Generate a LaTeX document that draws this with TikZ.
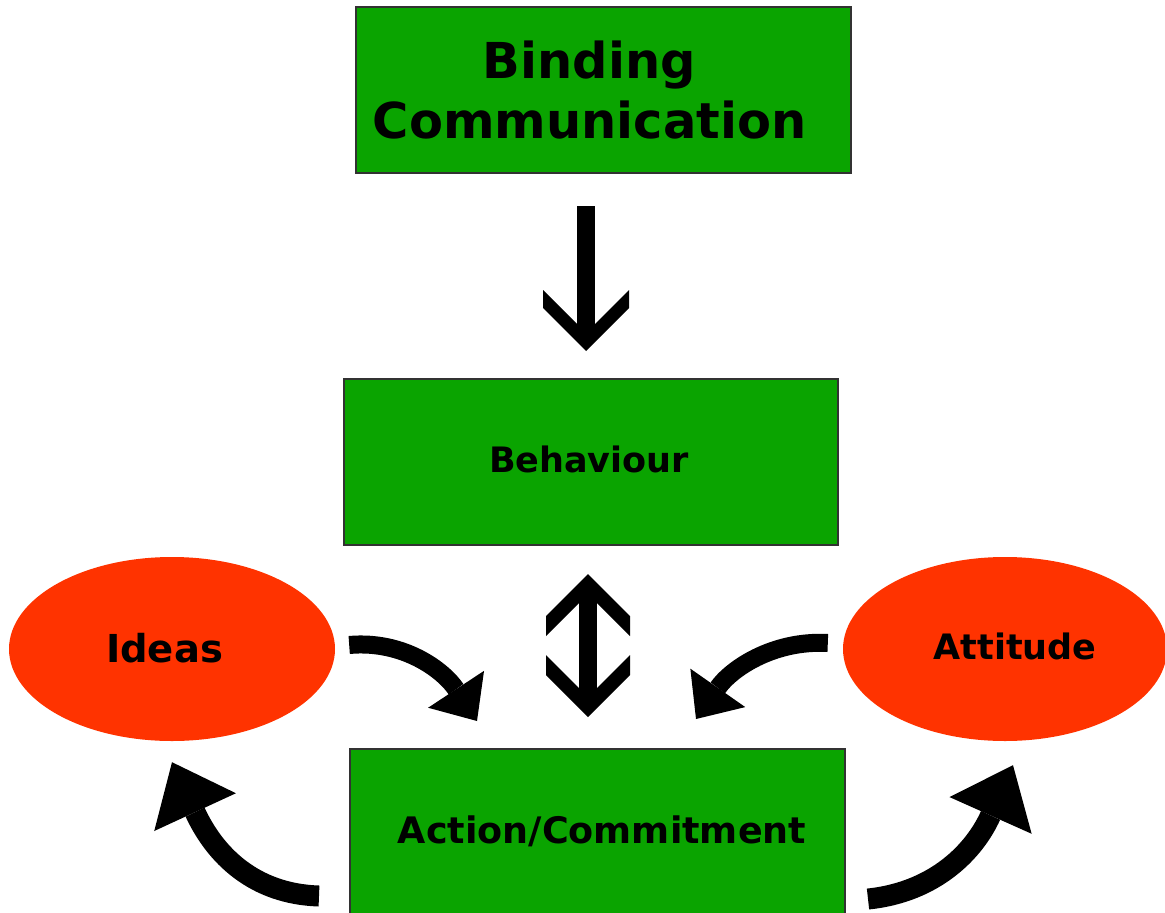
\documentclass[tikz,border=0pt]{standalone}
\usepackage{fontspec}
\setmainfont{DejaVu Sans}
\usetikzlibrary{shapes.geometric,arrows.meta,calc}
\definecolor{boxgreen}{RGB}{10,164,0}
\definecolor{ovalred}{RGB}{255,51,0}
\definecolor{edgegray}{RGB}{50,50,50}
\begin{document}
\begin{tikzpicture}[x=1pt,y=-1pt,
  greenbox/.style={draw=edgegray, line width=2pt, fill=boxgreen, inner sep=0pt},
  oval/.style={ellipse, fill=ovalred, inner sep=0pt},
  labelfont/.style={font=\bfseries\fontsize{35}{42}\selectfont},
  titlefont/.style={font=\bfseries\fontsize{49.5}{60}\selectfont, align=center},
  shaft/.style={line width=18pt},
  curved/.style={line width=18pt, -{Triangle[length=38pt,width=67pt,line width=0pt]}},
  curvedbig/.style={line width=21pt, -{Triangle[length=55pt,width=90pt,line width=0pt]}}
]
\useasboundingbox (0,0) rectangle (1165,913);

% boxes
\node[greenbox, minimum width=495pt, minimum height=166pt,
      label={[titlefont, xshift=-14pt]center:Binding\\Communication}] (bc) at (603.5,90) {};
\node[greenbox, minimum width=494pt, minimum height=166pt,
      label={[labelfont, xshift=-2pt, yshift=3pt]center:Behaviour}] (beh) at (591,462) {};
\node[greenbox, minimum width=495pt, minimum height=180pt,
      label={[labelfont, font=\bfseries\fontsize{36.5}{42}\selectfont, xshift=4.5pt, yshift=8pt]center:Action/Commitment}] (act) at (597.5,839) {};

% ovals
\node[oval, minimum width=326pt, minimum height=184pt,
      label={[labelfont, font=\bfseries\fontsize{38.5}{44}\selectfont, xshift=-7.5pt, yshift=1pt]center:Ideas}] (ideas) at (172,649) {};
\node[oval, minimum width=324pt, minimum height=184pt,
      label={[labelfont, xshift=10pt, yshift=3pt]center:Attitude}] (att) at (1005,649) {};

% straight down arrow
\coordinate (d1) at ($(bc.south)+(-17.5,32)$);
\coordinate (d2) at ($(beh.north)+(-5,-27)$);
\draw[shaft] (d1) -- ($(d2)+(0,-14)$);
\fill[shift={(d2)}] (0,0) -- (-43,-43) -- (-43,-61) -- (0,-18) -- (43,-61) -- (43,-43) -- cycle;

% double arrow
\coordinate (u1) at ($(beh.south)+(-3,28)$);
\coordinate (u2) at ($(act.north)+(-9.5,-31)$);
\draw[shaft] ($(u1)+(0,14)$) -- ($(u2)+(0,-14)$);
\fill[shift={(u1)}] (0,0) -- (-42,42) -- (-42,62) -- (0,20) -- (42,62) -- (42,42) -- cycle;
\fill[shift={(u2)}] (0,0) -- (-42,-42) -- (-42,-62) -- (0,-20) -- (42,-62) -- (42,-42) -- cycle;

% curved arrows into action
\draw[curved] ($(ideas.east)+(14,-4)$) .. controls +(55,-5) and +(-33,-50) .. ($(act.north west)+(128,-27)$);
\draw[curved] ($(att.west)+(-15,-6)$) .. controls +(-55,-3) and +(35,-50) .. ($(act.north east)+(-150,-29)$);

% curved arrows out of action
\draw[curvedbig] ($(act.north west)+(-30,148)$) .. controls +(-65,-2) and +(43,93) .. ($(ideas.south)+(0,21)$);
\draw[curvedbig] ($(act.north east)+(22,151)$) .. controls +(68,-7) and +(-38,85) .. ($(att.south)+(8,24)$);
\end{tikzpicture}
\end{document}
